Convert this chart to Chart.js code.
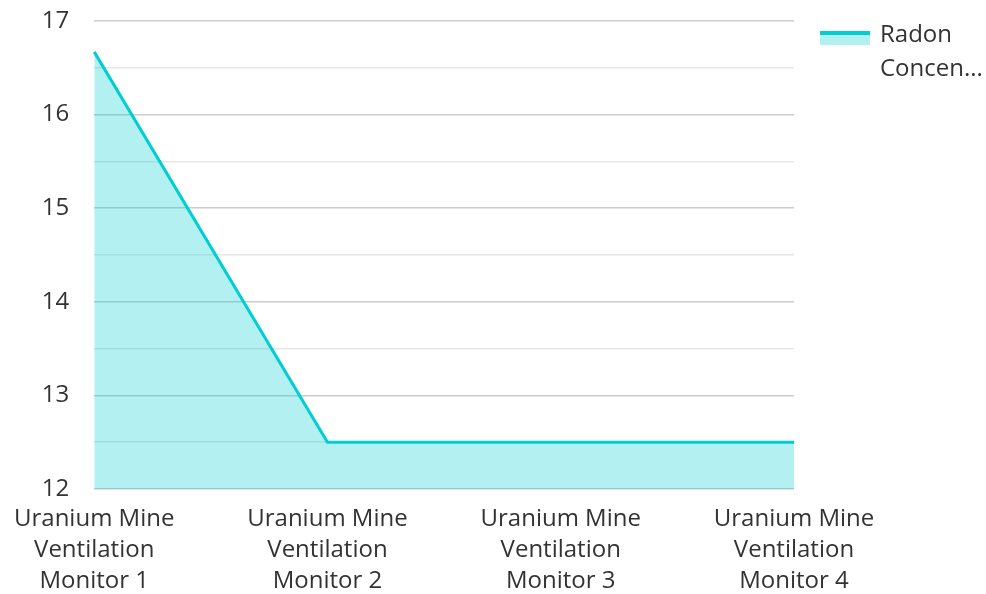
<!DOCTYPE html>
<html>
<head>
<meta charset="utf-8">
<script src="https://cdn.jsdelivr.net/npm/chart.js@4.4.1/dist/chart.umd.min.js"></script>
<style>
  html, body { margin: 0; padding: 0; background: #fff; }
  #wrap { width: 986px; height: 594px; position: relative; }
</style>
</head>
<body>
<div id="wrap"><canvas id="radonChart"></canvas></div>
<script>
// chart data
const categories = [
    ['Uranium Mine', 'Ventilation', 'Monitor 1'],
    ['Uranium Mine', 'Ventilation', 'Monitor 2'],
    ['Uranium Mine', 'Ventilation', 'Monitor 3'],
    ['Uranium Mine', 'Ventilation', 'Monitor 4']
];
const radonValues = [16.67, 12.5, 12.5, 12.5];
const seriesName = 'Radon Concentration';
const legendLines = ['Radon', 'Concen...'];
const yMin = 12, yMax = 17, yStep = 0.5;

const lineColor = 'rgb(0, 206, 209)';
const fillColor = 'rgba(0, 206, 209, 0.3)';
const textColor = '#333333';
const fontFamily = "'Open Sans', 'Noto Sans', sans-serif";

// legend drawn on the right, two lines of text
const sideLegend = {
    id: 'sideLegend',
    afterDraw(chart) {
        const ctx = chart.ctx;
        ctx.save();
        ctx.fillStyle = fillColor;
        ctx.fillRect(820, 33, 50, 12);
        ctx.fillStyle = lineColor;
        ctx.fillRect(820, 31, 50, 4);
        ctx.fillStyle = textColor;
        ctx.font = '24px ' + fontFamily;
        ctx.textBaseline = 'middle';
        ctx.fillText(legendLines[0], 880, 35);
        ctx.fillText(legendLines[1], 880, 69);
        ctx.restore();
    }
};

new Chart(document.getElementById('radonChart'), {
    type: 'line',
    data: {
        labels: categories,
        datasets: [{
            label: seriesName,
            data: radonValues,
            borderColor: lineColor,
            backgroundColor: fillColor,
            borderWidth: 3,
            fill: 'start',
            tension: 0,
            pointRadius: 0
        }]
    },
    options: {
        responsive: true,
        maintainAspectRatio: false,
        animation: false,
        layout: { padding: { top: 21, right: 192, left: 0, bottom: 0 } },
        plugins: {
            legend: { display: false },
            tooltip: { enabled: false }
        },
        scales: {
            x: {
                offset: false,
                afterFit: (s) => { s.height = 105; },
                grid: { display: false, drawTicks: false },
                border: { display: false },
                ticks: {
                    color: textColor,
                    font: { family: fontFamily, size: 24, lineHeight: 1.31 },
                    padding: 14,
                    maxRotation: 0,
                    autoSkip: false
                }
            },
            y: {
                min: yMin,
                max: yMax,
                border: { display: false },
                afterFit: (s) => { s.width = 92; },
                grid: {
                    drawTicks: true,
                    tickLength: 22,
                    tickColor: 'rgba(0,0,0,0)',
                    lineWidth: 1.5,
                    color: (c) => (c.tick && Number.isInteger(c.tick.value)) ? '#cccccc' : '#e6e6e6'
                },
                ticks: {
                    stepSize: yStep,
                    color: textColor,
                    padding: 3,
                    font: { family: fontFamily, size: 24 },
                    callback: (v) => Number.isInteger(v) ? v : ''
                }
            }
        }
    },
    plugins: [sideLegend]
});
</script>
</body>
</html>
